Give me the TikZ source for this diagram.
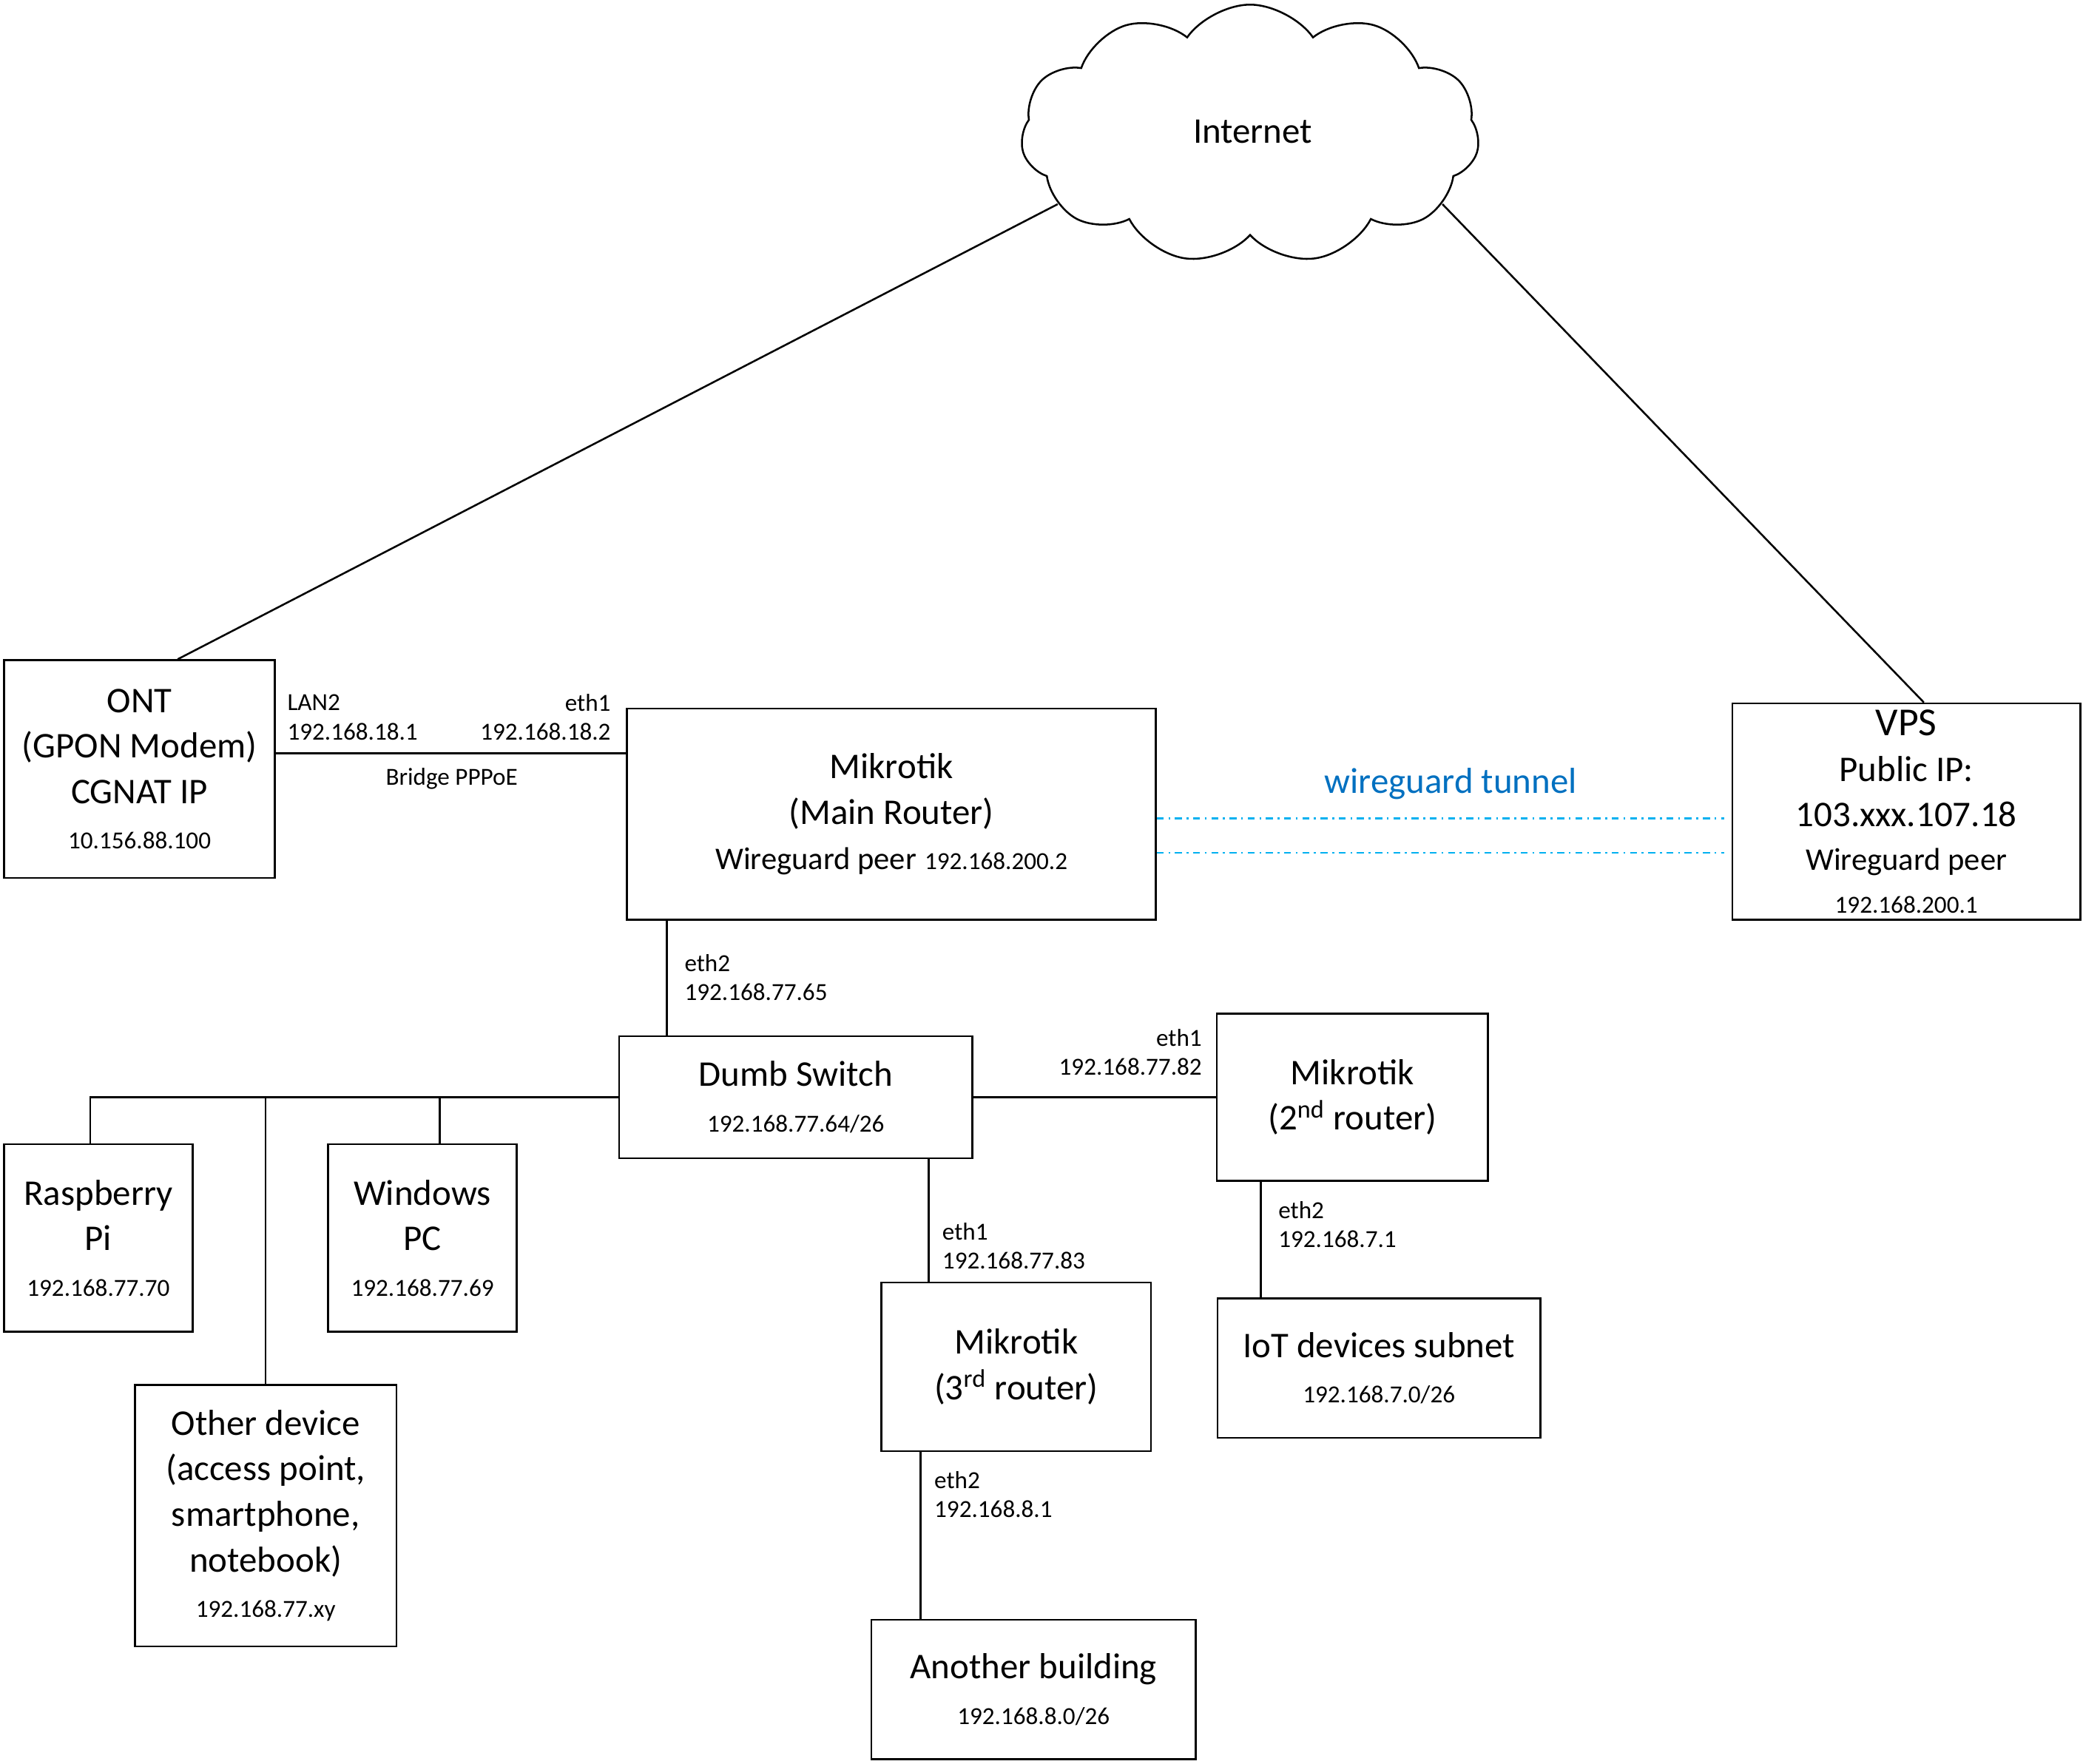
\documentclass[tikz,border=0pt]{standalone}
\usepackage{fontspec}
\setmainfont{Carlito}
\usetikzlibrary{shapes.symbols}
\usetikzlibrary{calc}

\definecolor{tunnel}{RGB}{0,176,240}
\definecolor{tunneltext}{RGB}{0,112,192}

\tikzset{
	box/.style={draw,thick,inner sep=0pt,align=center,font=\fontsize{15.5}{16.5}\selectfont},
	tag/.style={font=\fontsize{10.5}{11}\selectfont,inner sep=0pt,align=left},
	link/.style={thick},
	wg/.style={thick,tunnel,dash dot}
}
\newcommand{\ipx}[1]{{\fontsize{10.5}{12}\selectfont #1}}

\begin{document}
\begin{tikzpicture}[x=0.02cm,y=-0.02cm]
	\useasboundingbox (0,0) rectangle (1568,1328);

	% boxes
	\node[box,minimum width=204*0.02cm,minimum height=164*0.02cm] (ont) at (105,579)
		{ONT\\[3pt](GPON Modem)\\[3pt]CGNAT IP\\[3pt]\ipx{10.156.88.100}};
	\node[box,minimum width=398*0.02cm,minimum height=159*0.02cm] (main) at (671,613)
		{Mikrotik\\[3pt](Main Router)\\[3pt]{\fontsize{13.5}{15}\selectfont Wireguard peer} \ipx{192.168.200.2}};
	\node[box,minimum width=262*0.02cm,minimum height=163*0.02cm] (vps) at (1435,611)
		{{\fontsize{17}{18}\selectfont VPS}\\[3pt]Public IP:\\[3pt]103.xxx.107.18\\[2pt]{\fontsize{13.5}{15}\selectfont Wireguard peer}\\[2pt]\ipx{192.168.200.1}};
	\node[box,minimum width=266*0.02cm,minimum height=92*0.02cm] (switch) at (599,826)
		{Dumb Switch\\[3pt]\ipx{192.168.77.64/26}};
	\node[box,minimum width=204*0.02cm,minimum height=126*0.02cm] (second) at (1018,826)
		{Mikrotik\\[3pt](2\textsuperscript{nd} router)};
	\node[box,minimum width=142*0.02cm,minimum height=141*0.02cm] (rpi) at (74,932)
		{Raspberry\\[3pt]Pi\\[3pt]\ipx{192.168.77.70}};
	\node[box,minimum width=142*0.02cm,minimum height=141*0.02cm] (winpc) at (318,932)
		{Windows\\[3pt]PC\\[3pt]\ipx{192.168.77.69}};
	\node[box,minimum width=197*0.02cm,minimum height=197*0.02cm] (other) at (200,1141)
		{Other device\\[3pt](access point,\\[3pt]smartphone,\\[3pt]notebook)\\[3pt]\ipx{192.168.77.xy}};
	\node[box,minimum width=203*0.02cm,minimum height=127*0.02cm] (third) at (765,1029)
		{Mikrotik\\[3pt](3\textsuperscript{rd} router)};
	\node[box,minimum width=243*0.02cm,minimum height=105*0.02cm] (iot) at (1038,1030)
		{IoT devices subnet\\[3pt]\ipx{192.168.7.0/26}};
	\node[box,minimum width=244*0.02cm,minimum height=105*0.02cm] (building) at (778,1272)
		{Another building\\[3pt]\ipx{192.168.8.0/26}};

	% cloud
	\node[draw,thick,cloud,cloud puffs=11,cloud puff arc=110,aspect=1.8,
		minimum width=345*0.02cm,minimum height=195*0.02cm,
		font=\fontsize{15.5}{16.5}\selectfont] (internet) at (941,101) {};
	\node[font=\fontsize{15.5}{16.5}\selectfont] (nettext) at (943,99) {Internet};

	% uplinks
	\draw[link] ($(ont.north west)!0.64!(ont.north east)$) -- (internet.200);
	\draw[link] ($(vps.north west)!0.55!(vps.north east)$) -- (internet.-20);

	% ONT to main router
	\draw[link] (ont.east |- 0,567) -- (main.west |- 0,567);
	\node[tag,anchor=west] (lan2) at (216,529) {LAN2};
	\node[tag,anchor=west] (lanip) at (216,551) {192.168.18.1};
	\node[tag,anchor=east] (eth1a) at (460,529) {eth1};
	\node[tag,anchor=east] (eth1aip) at (460,551) {192.168.18.2};
	\node[tag] (pppoe) at (340,586) {Bridge PPPoE};

	% tunnel
	\draw[wg] (main.east |- 0,616) -- (1298,616);
	\draw[wg] (main.east |- 0,642) -- (1298,642);
	\node[font=\fontsize{15.5}{16.5}\selectfont,text=tunneltext] (wgtext) at (1092,590) {wireguard tunnel};

	% main router to switch
	\draw[link] (main.south -| 502,0) -- (switch.north -| 502,0);
	\node[tag,anchor=west] (eth2a) at (515,725) {eth2};
	\node[tag,anchor=west] (eth2aip) at (515,747) {192.168.77.65};

	% switch to 2nd router
	\draw[link] (switch.east) -- (second.west);
	\node[tag,anchor=east] (eth1b) at (905,781) {eth1};
	\node[tag,anchor=east] (eth1bip) at (905,803) {192.168.77.82};

	% left bus
	\draw[link] (switch.west) -- (68,826) -- (rpi.north -| 68,0);
	\draw[link] (200,826) -- (other.north);
	\draw[link] (331,826) -- (winpc.north -| 331,0);

	% switch to 3rd router
	\draw[link] (switch.south -| 699,0) -- (third.north -| 699,0);
	\node[tag,anchor=west] (eth1c) at (709,927) {eth1};
	\node[tag,anchor=west] (eth1cip) at (709,949) {192.168.77.83};

	% 3rd router to building
	\draw[link] (third.south -| 693,0) -- (building.north -| 693,0);
	\node[tag,anchor=west] (eth2c) at (703,1114) {eth2};
	\node[tag,anchor=west] (eth2cip) at (703,1136) {192.168.8.1};

	% 2nd router to IoT
	\draw[link] (second.south -| 949,0) -- (iot.north -| 949,0);
	\node[tag,anchor=west] (eth2b) at (962,911) {eth2};
	\node[tag,anchor=west] (eth2bip) at (962,933) {192.168.7.1};
\end{tikzpicture}
\end{document}
